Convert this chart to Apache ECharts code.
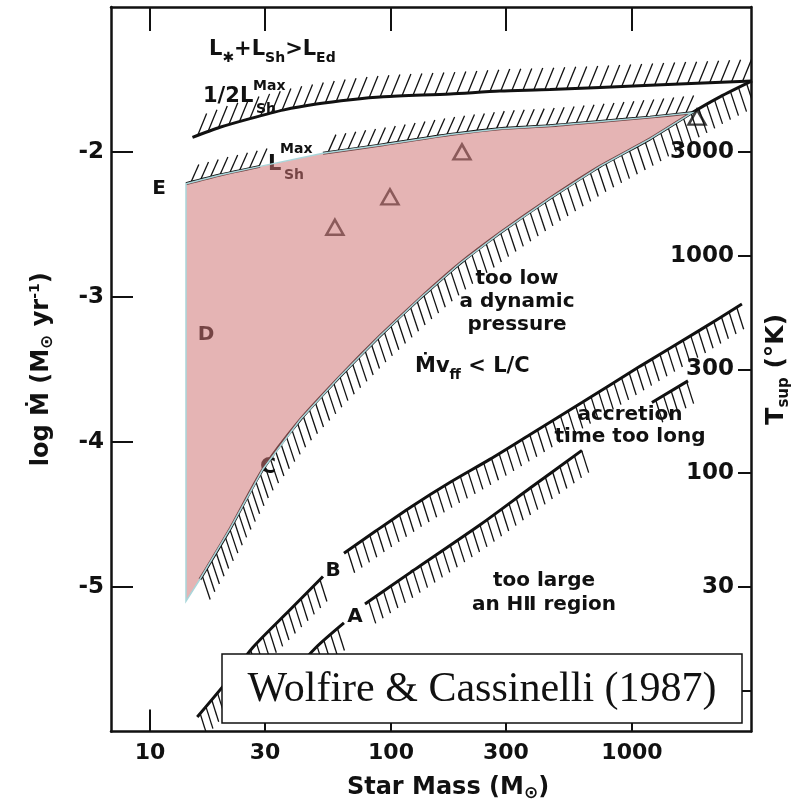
<!DOCTYPE html>
<html lang="en">
<head>
<meta charset="UTF-8">
<title>Wolfire & Cassinelli (1987)</title>
<script src="https://cdn.jsdelivr.net/npm/echarts@6/dist/echarts.min.js"></script>
<style>html,body{margin:0;padding:0;background:#fff}</style>
</head>
<body>
<div id="main" style="width:809px;height:807px;"></div>
<script>
// tick labels
const massTicks = [10, 30, 100, 300, 1000];
const mdotTicks = [-5, -4, -3, -2];
const tempTicks = [10, 30, 100, 300, 1000, 3000];

// curves: star mass (Msun) and log Mdot, null = gap in the drawn line
const halfLshMass = [15, 19.5, 26, 36, 49, 68, 93, 176, 283, 457, 1190, 3150];
const halfLshMdot = [-1.90, -1.83, -1.77, -1.71, -1.67, -1.64, -1.62, -1.60, -1.58, -1.57, -1.54, -1.51];

const lshMass = [14.1, 19.5, 28.6, null, 52.2, 92.6, 176, 283, 457, 736, 1189, 1774];
const lshMdot = [-2.22, -2.16, -2.10, null, -2.01, -1.95, -1.88, -1.84, -1.82, -1.79, -1.76, -1.73];

const cMass = [16.1, 21.5, 29.4, 41.9, 61.4, 90, 132, 193, 283, 457, 736, 1189, 1774, 2317, 3148];
const cMdot = [-4.95, -4.60, -4.19, -3.85, -3.55, -3.27, -3.01, -2.77, -2.56, -2.32, -2.10, -1.91, -1.73, -1.62, -1.51];

const bMass = [15.7, 20.5, 26.7, 38.1, 52.2, null, 63.8, 85.8, 121, 176, 258, 378, 620, 1079, 1914, 2860];
const bMdot = [-5.90, -5.67, -5.42, -5.16, -4.93, null, -4.77, -4.62, -4.45, -4.28, -4.12, -3.95, -3.73, -3.48, -3.23, -3.05];

const aMass = [38.1, 48.8, 63.8, null, 78, 121, 236, 378, 620, null, 1210, 1708];
const aMdot = [-5.62, -5.42, -5.25, null, -5.12, -4.90, -4.57, -4.32, -4.06, null, -3.73, -3.58];

// open triangles
const triMass = [58.5, 99, 197, 1862];
const triMdot = [-2.52, -2.31, -2.00, -1.76];

// bottom corner of the shaded region
const shadeCornerMass = 14.1;
const shadeCornerMdot = -5.10;

const F = 'DejaVu Sans';
const lg = Math.log10;
// T_sup scale tied to Mdot: 3000 K at -2, 30 K at -5
const tToMdot = t => -2 + (lg(t) - lg(3000)) * 1.5;
const mdotToT = v => Math.pow(10, lg(3000) + (v + 2) / 1.5);

function pairs(mass, mdot) {
    return mass.map((m, i) => m === null ? ['-', '-'] : [lg(m), mdot[i]]);
}

const curves = [
    { mass: halfLshMass, mdot: halfLshMdot, hatch: { gap: 11, dx: 9, dy: -22 } },
    { mass: lshMass, mdot: lshMdot, hatch: { gap: 10, dx: 8, dy: -18 } },
    { mass: cMass, mdot: cMdot, hatch: { gap: 9, dx: 8, dy: 24 } },
    { mass: bMass, mdot: bMdot, hatch: { gap: 9, dx: 7, dy: 22 } },
    { mass: aMass, mdot: aMdot, hatch: { gap: 9, dx: 7, dy: 22 } }
];

function hatchLines(pts, h) {
    const out = [];
    let next = h.gap / 2, acc = 0;
    for (let i = 1; i < pts.length; i++) {
        const [x0, y0] = pts[i - 1], [x1, y1] = pts[i];
        const len = Math.hypot(x1 - x0, y1 - y0);
        while (next <= acc + len) {
            const t = (next - acc) / len;
            const x = x0 + t * (x1 - x0), y = y0 + t * (y1 - y0);
            out.push({ type: 'line', shape: { x1: x, y1: y, x2: x + h.dx, y2: y + h.dy },
                style: { stroke: '#111', lineWidth: 1.3 } });
            next += h.gap;
        }
        acc += len;
    }
    return out;
}

// shaded region: along L_Sh^Max, back down the C curve, then the left edge
const shade = [];
lshMass.forEach((m, i) => { if (m !== null) shade.push([lg(m), lshMdot[i]]); });
const tipMass = lshMass[lshMass.length - 1];
for (let i = cMass.length - 1; i >= 0; i--) {
    if (cMass[i] < tipMass) shade.push([lg(cMass[i]), cMdot[i]]);
}
shade.push([lg(shadeCornerMass), shadeCornerMdot]);

function txt(x, y, text, o) {
    return {
        type: 'text', x: x, y: y, z: (o && o.z) || 3,
        style: Object.assign({
            text: text, fill: '#111', fontFamily: F, fontWeight: 'bold', fontSize: 20,
            align: 'center', verticalAlign: 'middle', textAlign: 'center', textVerticalAlign: 'middle'
        }, o || {})
    };
}
const big = { fontFamily: F, fontWeight: 'bold', fontSize: 21, lineHeight: 24, color: '#111' };
const sub = { fontFamily: F, fontWeight: 'bold', fontSize: 14, lineHeight: 15, color: '#111', padding: [16, 0, 0, 0] };
const left = { align: 'left', textAlign: 'left' };

const lineBase = { type: 'line', showSymbol: false, smooth: 0.25, z: 2,
    lineStyle: { color: '#111', width: 3 } };

var myChart = echarts.init(document.getElementById('main'));
const option = {
    backgroundColor: '#fff',
    animation: false,
    grid: { left: 111, right: 58, top: 7, bottom: 71 },
    xAxis: [{
        type: 'value', min: 0.838, max: 3.494, position: 'bottom',
        axisLine: { lineStyle: { color: '#111', width: 2.5 } },
        axisTick: { inside: true, length: 22, lineStyle: { color: '#111', width: 2 },
            customValues: massTicks.map(lg) },
        axisLabel: { customValues: massTicks.map(lg), margin: 11,
            formatter: v => String(Math.round(Math.pow(10, v))),
            color: '#111', fontFamily: F, fontWeight: 'bold', fontSize: 22 },
        splitLine: { show: false },
        name: '{t|Star Mass (M}{s|⊙}{t|)}',
        nameLocation: 'middle', nameGap: 42,
        nameTextStyle: { padding: [0, 0, 0, 34], rich: {
            t: { fontFamily: F, fontWeight: 'bold', fontSize: 24, lineHeight: 28, color: '#111' },
            s: { fontFamily: F, fontWeight: 'bold', fontSize: 17, lineHeight: 17, color: '#111', padding: [12, 0, 0, 0] }
        } }
    }, {
        type: 'value', min: 0.838, max: 3.494, position: 'top',
        axisLine: { lineStyle: { color: '#111', width: 2.5 } },
        axisTick: { inside: true, length: 24, lineStyle: { color: '#111', width: 2 },
            customValues: massTicks.map(lg) },
        axisLabel: { show: false },
        splitLine: { show: false }
    }],
    yAxis: [{
        type: 'value', min: -6, max: -1, position: 'left',
        axisLine: { lineStyle: { color: '#111', width: 2.5 } },
        axisTick: { inside: true, length: 22, lineStyle: { color: '#111', width: 2 },
            customValues: mdotTicks },
        axisLabel: { customValues: mdotTicks, margin: 7,
            formatter: v => '-' + Math.abs(v),
            color: '#111', fontFamily: F, fontWeight: 'bold', fontSize: 23 },
        splitLine: { show: false },
        name: '{t|log }{t|Ṁ}{t| (M}{s|⊙}{t| yr}{p|-1}{t|)}',
        nameLocation: 'middle', nameGap: 55, nameRotate: 90,
        nameTextStyle: { rich: {
            t: { fontFamily: F, fontWeight: 'bold', fontSize: 24, lineHeight: 28, color: '#111' },
            s: { fontFamily: F, fontWeight: 'bold', fontSize: 17, lineHeight: 17, color: '#111', padding: [12, 0, 0, 0] },
            p: { fontFamily: F, fontWeight: 'bold', fontSize: 14, lineHeight: 14, color: '#111', padding: [0, 0, 14, 0] }
        } }
    }, {
        type: 'value', min: -6, max: -1, position: 'right',
        axisLine: { lineStyle: { color: '#111', width: 2.5 } },
        axisTick: { inside: true, length: 13, lineStyle: { color: '#111', width: 2 },
            customValues: tempTicks.map(tToMdot) },
        axisLabel: { inside: true, customValues: tempTicks.map(tToMdot), margin: 17,
            formatter: v => String(Math.round(mdotToT(v))),
            color: '#111', fontFamily: F, fontWeight: 'bold', fontSize: 23 },
        splitLine: { show: false },
        name: '{t|T}{s|sup}{t| (°K)}',
        nameLocation: 'middle', nameGap: 11, nameRotate: 90,
        nameTextStyle: { rich: {
            t: { fontFamily: F, fontWeight: 'bold', fontSize: 25, lineHeight: 28, color: '#111' },
            s: { fontFamily: F, fontWeight: 'bold', fontSize: 15, lineHeight: 15, color: '#111', padding: [16, 0, 0, 0] }
        } }
    }],
    series: [
        Object.assign({ name: 'halfLsh', data: pairs(halfLshMass, halfLshMdot) }, lineBase),
        Object.assign({ name: 'Lsh', data: pairs(lshMass, lshMdot) }, lineBase),
        Object.assign({ name: 'C', data: pairs(cMass, cMdot) }, lineBase),
        Object.assign({ name: 'B', data: pairs(bMass, bMdot) }, lineBase),
        Object.assign({ name: 'A', data: pairs(aMass, aMdot) }, lineBase),
        {
            type: 'custom', name: 'hatch', z: 2, clip: true,
            data: curves.map(() => [2, -3]),
            renderItem: function (params, api) {
                const c = curves[params.dataIndex];
                const children = [];
                let seg = [];
                const flush = () => { if (seg.length > 1) children.push.apply(children, hatchLines(seg, c.hatch)); seg = []; };
                c.mass.forEach((m, i) => {
                    if (m === null) { flush(); return; }
                    seg.push(api.coord([lg(m), c.mdot[i]]));
                });
                flush();
                return { type: 'group', children: children };
            }
        },
        {
            type: 'scatter', name: 'models', z: 3,
            data: triMass.map((m, i) => [lg(m), triMdot[i]]),
            symbol: 'triangle', symbolSize: [17, 15],
            itemStyle: { color: 'rgba(0,0,0,0)', borderColor: '#111', borderWidth: 2.5 }
        },
        {
            type: 'custom', name: 'shade', z: 5,
            data: [[2, -3]],
            renderItem: function (params, api) {
                return {
                    type: 'polygon',
                    shape: { points: shade.map(p => api.coord(p)) },
                    style: { fill: 'rgba(206,113,113,0.53)', stroke: '#a9d6da', lineWidth: 1.5 }
                };
            }
        }
    ],
    graphic: [
        txt(209, 50, '{t|L}{s|✱}{t|+L}{s|Sh}{t|>L}{s|Ed}', Object.assign({ rich: { t: big, s: sub } }, left)),
        txt(203, 97, '1/2', Object.assign({ fontSize: 21 }, left)),
        txt(240, 97, 'L', Object.assign({ fontSize: 21 }, left)),
        txt(253, 86, 'Max', Object.assign({ fontSize: 14 }, left)),
        txt(256, 109, 'Sh', Object.assign({ fontSize: 14 }, left)),
        txt(268, 165, 'L', Object.assign({ fontSize: 21 }, left)),
        txt(280, 149, 'Max', Object.assign({ fontSize: 14 }, left)),
        txt(284, 175, 'Sh', Object.assign({ fontSize: 14 }, left)),
        txt(159, 189, 'E'),
        txt(206, 335, 'D'),
        txt(268, 467, 'C', { fontSize: 22 }),
        txt(333, 571, 'B'),
        txt(355, 617, 'A'),
        txt(517, 302, 'too low\na dynamic\npressure', { lineHeight: 23 }),
        txt(415, 367, '{t|Ṁv}{s|ff}{t| < L/C}', Object.assign({ rich: { t: big, s: sub } }, left)),
        txt(630, 426, 'accretion\ntime too long', { lineHeight: 22 }),
        txt(544, 593, 'too large\nan HⅡ region', { lineHeight: 24 }),
        { type: 'rect', z: 10, shape: { x: 222, y: 654, width: 520, height: 69 },
            style: { fill: '#fff', stroke: '#111', lineWidth: 1.5 } },
        txt(482, 690, 'Wolfire & Cassinelli (1987)', { z: 11, fontFamily: 'Liberation Serif',
            fontWeight: 'normal', fontSize: 42 })
    ]
};
myChart.setOption(option);
</script>
</body>
</html>
